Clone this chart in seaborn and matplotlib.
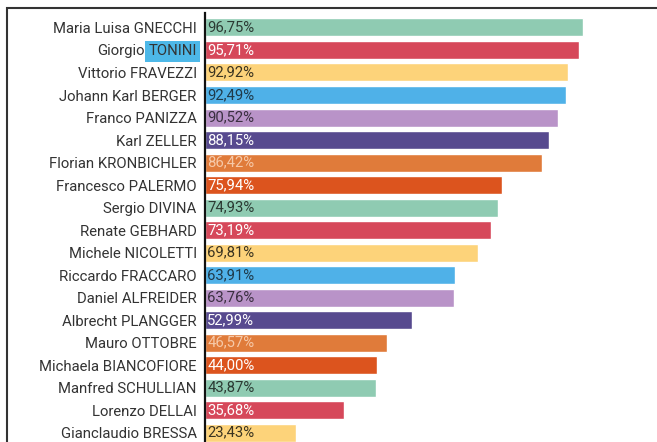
import matplotlib
matplotlib.use("Agg")
import matplotlib.pyplot as plt
from matplotlib.patches import Rectangle
import seaborn as sns
import pandas as pd

names = ["Maria Luisa GNECCHI", "Giorgio TONINI", "Vittorio FRAVEZZI", "Johann Karl BERGER",
         "Franco PANIZZA", "Karl ZELLER", "Florian KRONBICHLER", "Francesco PALERMO",
         "Sergio DIVINA", "Renate GEBHARD", "Michele NICOLETTI", "Riccardo FRACCARO",
         "Daniel ALFREIDER", "Albrecht PLANGGER", "Mauro OTTOBRE", "Michaela BIANCOFIORE",
         "Manfred SCHULLIAN", "Lorenzo DELLAI", "Gianclaudio BRESSA"]
values = [96.75, 95.71, 92.92, 92.49, 90.52, 88.15, 86.42, 75.94, 74.93, 73.19,
          69.81, 63.91, 63.76, 52.99, 46.57, 44.00, 43.87, 35.68, 23.43]

cycle = ["#8fcbb2", "#d6485a", "#fdd37a", "#4fb1e8", "#b993c8", "#574a8f", "#e07b3a", "#dc541e"]
text_cycle = ["#2b3a33", "#ffffff", "#3a3320", "#1f3a4a", "#3a2f40", "#ffffff", "#f6c9a8", "#ffffff"]
colors = [cycle[i % 8] for i in range(len(names))]
txt_colors = [text_cycle[i % 8] for i in range(len(names))]

df = pd.DataFrame({"name": names, "value": values})

sns.set_style("white")
plt.rcParams["font.family"] = ["Roboto", "DejaVu Sans"]

W, H = 657, 442
fs = 10.7
fig = plt.figure(figsize=(W / 100, H / 100), dpi=100)
ax = fig.add_axes([205 / W, 0, (640 - 205) / W, (H - 13) / H])

sns.barplot(data=df, x="value", y="name", hue="name", palette=colors, legend=False,
            width=0.8, saturation=1, ax=ax)

ax.set_xlim(0, (640 - 205) / 3.905)
ax.set_ylim(18.42, -0.644)
ax.set_xlabel("")
ax.set_ylabel("")
ax.set_xticks([])
for s in ["top", "right", "bottom"]:
    ax.spines[s].set_visible(False)
ax.spines["left"].set_color("#111111")
ax.spines["left"].set_linewidth(1.6)
ax.tick_params(axis="y", length=0, pad=6, labelsize=fs, labelcolor="#333333")

for i, (v, c) in enumerate(zip(values, txt_colors)):
    ax.text(0.6, i, f"{v:.2f}%".replace(".", ","), va="center", ha="left",
            fontsize=fs, color=c)

# Tonini row: first name as plain text, surname highlighted
lab = ax.get_yticklabels()[1]
tick_tr = lab.get_transform()
ax.set_yticks(range(len(names)), [n if i != 1 else "" for i, n in enumerate(names)])
first, last = names[1].split(" ")
t_last = ax.text(0, 1, last, transform=tick_tr, ha="right", va="center_baseline",
                 fontsize=fs, color="#333333",
                 bbox=dict(boxstyle="square,pad=0.22", fc="#4db8e8", ec="none"))
ax.annotate(first, xy=(0, 0), xycoords=t_last, xytext=(-2.8, 0), textcoords="offset points",
            ha="right", va="bottom", fontsize=fs, color="#333333")

fig.patches.append(Rectangle((7 / W, -0.1), 1.2, 1.1 - 8 / H, transform=fig.transFigure,
                             fill=False, ec="#333333", lw=1.5))

fig.savefig("out.png", dpi=100)
